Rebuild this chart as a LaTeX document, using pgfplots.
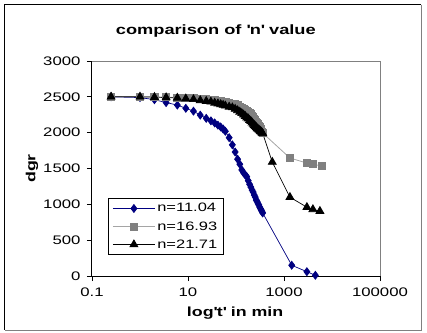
\documentclass[border=0pt]{standalone}
\usepackage{fontspec}
\setmainfont{Liberation Sans}[FakeStretch=1.35]
\usepackage{pgfplots}
\usepackage{pgfplotstable}
\pgfplotsset{compat=1.18}
\definecolor{navyb}{RGB}{0,0,128}
\definecolor{grsq}{RGB}{128,128,128}
\definecolor{grln}{RGB}{165,165,165}

\pgfplotstableread{
t v
0.25 2500
1 2490
2 2460
3.5 2420
6 2385
9 2340
13 2300
18 2245
24 2200
30 2165
36 2135
42 2105
48 2080
54 2050
60 2020
72 1930
84 1830
96 1730
108 1630
120 1560
132 1480
144 1440
156 1410
168 1385
180 1330
192 1280
204 1240
216 1200
228 1170
240 1130
252 1100
264 1060
276 1040
288 1010
300 990
312 960
324 940
336 920
348 900
360 880
1450 150
3000 60
4500 10
}\blue

\pgfplotstableread{
t v
0.25 2500
1 2500
2 2500
3.5 2495
6 2490
9 2485
13 2480
18 2475
24 2470
30 2460
36 2455
42 2445
48 2440
54 2430
60 2425
72 2415
84 2405
96 2395
108 2380
120 2365
132 2350
144 2335
156 2320
168 2305
180 2290
192 2270
204 2255
216 2235
228 2215
240 2195
252 2175
264 2155
276 2135
288 2115
300 2095
312 2075
324 2055
336 2035
348 2015
360 1995
1330 1646
3000 1576
4000 1560
6200 1534
}\gray

\pgfplotstableread{
t v
0.25 2500
1 2500
2 2495
3.5 2490
6 2485
9 2475
13 2465
18 2450
24 2440
30 2430
36 2415
42 2405
48 2395
54 2385
60 2375
72 2360
84 2350
96 2330
108 2310
120 2290
132 2270
144 2250
156 2230
168 2210
180 2195
192 2175
204 2160
216 2140
228 2120
240 2105
252 2090
264 2075
276 2060
288 2050
300 2040
312 2030
324 2020
336 2010
348 2000
360 1990
570 1590
1330 1100
3000 960
4000 930
5600 905
}\black

\begin{document}
\begin{tikzpicture}
\begin{axis}[
  scale only axis,
  width=288pt, height=215pt,
  xmode=log, log basis x=10,
  xmin=0.1, xmax=100000,
  ymin=0, ymax=3000,
  xtick={0.1,10,1000,100000},
  xticklabels={0.1,10,1000,100000},
  minor xtick={},
  ytick={0,500,1000,1500,2000,2500,3000},
  axis x line*=bottom, axis y line*=left,
  axis line style={black, line width=1pt},
  tick align=outside,
  major tick length=5pt,
  tick style={black, line width=0.8pt},
  /pgf/number format/assume math mode=true,
  /pgf/number format/.cd, 1000 sep={}, /pgfplots/.cd,
  ticklabel style={font=\fontsize{12.4}{14}\selectfont},
  yticklabel style={xshift=-3pt},
  xticklabel style={yshift=-3pt},
  clip=false,
  legend style={at={(0.056,0.098)}, anchor=south west, draw=black, line width=0.8pt,
    font=\fontsize{12.2}{14}\selectfont, row sep=4pt, inner xsep=4pt, inner ysep=3pt},
  legend cell align=left,
  legend image code/.code={\draw[mark repeat=2,mark phase=2,#1] plot coordinates {(0pt,0pt) (21pt,0pt) (42pt,0pt)};},
]
\addplot[navyb, line width=0.7pt, mark=diamond*, mark size=4pt, mark options={solid, fill=navyb, draw=navyb}] table[x=t,y=v] {\blue};
\addlegendentry{n=11.04}
\addplot[grln, line width=0.8pt, mark=square*, mark size=3.6pt, mark options={solid, fill=grsq, draw=grsq}] table[x=t,y=v] {\gray};
\addlegendentry{n=16.93}
\addplot[black, line width=0.7pt, mark=triangle*, mark size=4.6pt, mark options={solid, fill=black, draw=black}] table[x=t,y=v] {\black};
\addlegendentry{n=21.71}

\draw[grsq, line width=0.8pt] (rel axis cs:0,1) -- (rel axis cs:1,1) -- (rel axis cs:1,0);
\node[font=\bfseries\fontsize{13.5}{15}\selectfont] at (rel axis cs:0.43,1.138) {comparison of \textquotesingle n\textquotesingle{} value};
\node[font=\bfseries\fontsize{13.2}{15}\selectfont, rotate=90] at (rel axis cs:-0.208,0.5) {dgr};
\node[font=\bfseries\fontsize{13.2}{15}\selectfont] at (rel axis cs:0.497,-0.172) {log\textquotesingle t\textquotesingle{} in min};
\draw[black, line width=1.6pt] (rel axis cs:-0.3035,-0.25) -- (rel axis cs:-0.3035,1.262) -- (rel axis cs:1.144,1.262);
\draw[grsq, line width=0.8pt] (rel axis cs:1.144,1.262) -- (rel axis cs:1.144,-0.251) -- (rel axis cs:-0.3035,-0.251);
\coordinate (bbsw) at (rel axis cs:-0.3194,-0.2605);
\coordinate (bbne) at (rel axis cs:1.1632,1.2837);
\end{axis}
\pgfresetboundingbox
\path[use as bounding box] (bbsw) rectangle (bbne);
\end{tikzpicture}
\end{document}
